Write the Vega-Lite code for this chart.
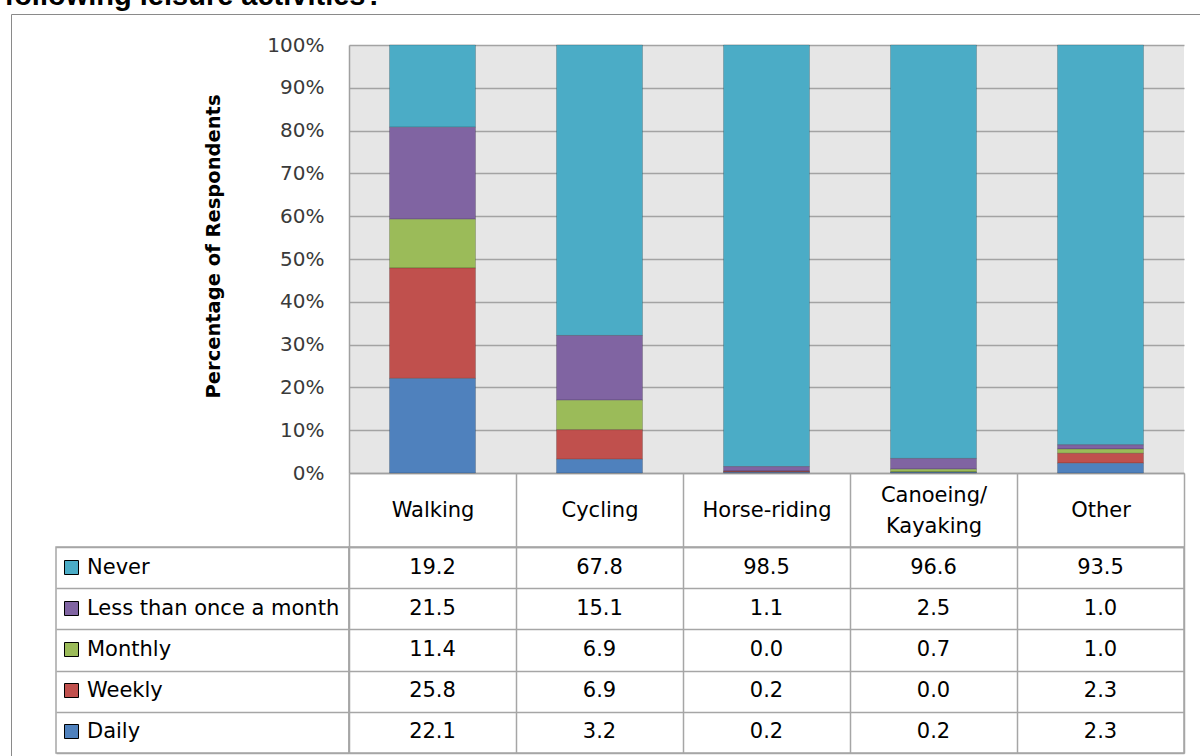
{
  "$schema": "https://vega.github.io/schema/vega-lite/v6.json",
  "background": "white",
  "padding": {"left": 4, "top": -19, "right": 0, "bottom": 0},
  "title": {
    "text": "following leisure activities?",
    "anchor": "start", "frame": "bounds",
    "font": "Liberation Sans", "fontSize": 29, "fontWeight": "bold", "color": "#000000",
    "baseline": "alphabetic", "offset": -20, "dx": -6
  },
  "datasets": {
    "tbl": [
      {"activity": "Walking", "freq": "Never", "value": 19.2},
      {"activity": "Walking", "freq": "Less than once a month", "value": 21.5},
      {"activity": "Walking", "freq": "Monthly", "value": 11.4},
      {"activity": "Walking", "freq": "Weekly", "value": 25.8},
      {"activity": "Walking", "freq": "Daily", "value": 22.1},
      {"activity": "Cycling", "freq": "Never", "value": 67.8},
      {"activity": "Cycling", "freq": "Less than once a month", "value": 15.1},
      {"activity": "Cycling", "freq": "Monthly", "value": 6.9},
      {"activity": "Cycling", "freq": "Weekly", "value": 6.9},
      {"activity": "Cycling", "freq": "Daily", "value": 3.2},
      {"activity": "Horse-riding", "freq": "Never", "value": 98.5},
      {"activity": "Horse-riding", "freq": "Less than once a month", "value": 1.1},
      {"activity": "Horse-riding", "freq": "Monthly", "value": 0.0},
      {"activity": "Horse-riding", "freq": "Weekly", "value": 0.2},
      {"activity": "Horse-riding", "freq": "Daily", "value": 0.2},
      {"activity": "Canoeing/Kayaking", "freq": "Never", "value": 96.6},
      {"activity": "Canoeing/Kayaking", "freq": "Less than once a month", "value": 2.5},
      {"activity": "Canoeing/Kayaking", "freq": "Monthly", "value": 0.7},
      {"activity": "Canoeing/Kayaking", "freq": "Weekly", "value": 0.0},
      {"activity": "Canoeing/Kayaking", "freq": "Daily", "value": 0.2},
      {"activity": "Other", "freq": "Never", "value": 93.5},
      {"activity": "Other", "freq": "Less than once a month", "value": 1.0},
      {"activity": "Other", "freq": "Monthly", "value": 1.0},
      {"activity": "Other", "freq": "Weekly", "value": 2.3},
      {"activity": "Other", "freq": "Daily", "value": 2.3}
    ]
  },
  "columns": 2,
  "bounds": "flush",
  "spacing": {"row": 74, "column": 0},
  "resolve": {
    "scale": {"x": "independent", "y": "independent", "color": "independent", "shape": "independent"},
    "legend": {"color": "independent", "shape": "independent"}
  },
  "concat": [
    {
      "width": 293,
      "height": 428,
      "data": {"values": [{}]},
      "mark": {"type": "point", "opacity": 0},
      "encoding": {
        "shape": {
          "datum": "frame", "type": "nominal",
          "scale": {"range": ["square"]},
          "legend": {
            "orient": "none", "legendX": -45, "legendY": -31,
            "title": null, "padding": 0,
            "strokeColor": "#8a8a8a",
            "symbolSize": 1600000, "symbolOpacity": 0, "symbolStrokeWidth": 0,
            "labelExpr": "''", "labelOffset": 0,
            "encode": {"legend": {"strokeWidth": {"value": 2.5}}}
          }
        }
      },
      "view": {"stroke": null}
    },
    {
      "width": 835,
      "height": 428,
      "data": {"name": "tbl"},
      "transform": [
        {"calculate": "indexof(['Daily','Weekly','Monthly','Less than once a month','Never'], datum.freq)", "as": "stackOrder"}
      ],
      "mark": {"type": "bar", "stroke": "#000000", "strokeOpacity": 0.18, "strokeWidth": 1},
      "encoding": {
        "x": {
          "field": "activity", "type": "nominal",
          "sort": ["Walking", "Cycling", "Horse-riding", "Canoeing/Kayaking", "Other"],
          "scale": {"paddingInner": 0.485, "paddingOuter": 0.2425},
          "axis": {"title": null, "labels": false, "ticks": false, "domain": true, "domainColor": "#a0a0a0", "domainWidth": 1.5, "grid": false}
        },
        "y": {
          "field": "value", "type": "quantitative", "stack": "normalize",
          "scale": {"domain": [0, 1]},
          "axis": {
            "values": [0, 0.1, 0.2, 0.3, 0.4, 0.5, 0.6, 0.7, 0.8, 0.9, 1],
            "format": ".0%",
            "title": "Percentage of Respondents",
            "titleFont": "DejaVu Sans", "titleFontSize": 19.5, "titleFontWeight": "bold", "titleColor": "#000000",
            "titleX": -136, "titleY": 201, "titleAlign": "center", "titleBaseline": "middle", "titleAngle": 270,
            "grid": true, "gridColor": "#a3a3a3", "gridWidth": 1.5,
            "ticks": false, "labelPadding": 25,
            "labelFont": "DejaVu Sans", "labelFontSize": 20, "labelColor": "#3a3a3a",
            "domain": true, "domainColor": "#a0a0a0", "domainWidth": 1.5
          }
        },
        "color": {
          "field": "freq", "type": "nominal",
          "scale": {
            "domain": ["Never", "Less than once a month", "Monthly", "Weekly", "Daily"],
            "range": ["#4BACC6", "#8064A2", "#9BBB59", "#C0504D", "#4F81BD"]
          },
          "legend": {
            "orient": "none", "legendX": -288, "legendY": 512,
            "title": null, "padding": 0,
            "symbolType": "square", "symbolSize": 196, "symbolStrokeWidth": 1,
            "labelFont": "DejaVu Sans", "labelFontSize": 21, "labelColor": "#000000",
            "labelOffset": 5, "rowPadding": 19, "labelLimit": 300
          }
        },
        "order": {"field": "stackOrder", "type": "quantitative"}
      },
      "view": {"fill": "#e6e6e6", "stroke": null}
    },
    {
      "width": 293,
      "height": 206,
      "data": {"name": "tbl"},
      "mark": {"type": "point", "opacity": 0},
      "encoding": {
        "y": {
          "field": "freq", "type": "nominal",
          "sort": ["Never", "Less than once a month", "Monthly", "Weekly", "Daily"],
          "scale": {"paddingInner": 0, "paddingOuter": 0},
          "axis": {"title": null, "labels": false, "ticks": false, "domain": false, "grid": true, "tickBand": "extent", "gridColor": "#a6a6a6", "gridWidth": 1.5}
        }
      },
      "view": {"stroke": "#a6a6a6", "strokeWidth": 1.5}
    },
    {
      "width": 835,
      "height": 206,
      "data": {"name": "tbl"},
      "mark": {"type": "text", "font": "DejaVu Sans", "fontSize": 21, "color": "#000000"},
      "encoding": {
        "x": {
          "field": "activity", "type": "nominal",
          "sort": ["Walking", "Cycling", "Horse-riding", "Canoeing/Kayaking", "Other"],
          "scale": {"paddingInner": 0, "paddingOuter": 0},
          "axis": {
            "orient": "top", "title": null, "labelAngle": 0,
            "tickBand": "extent", "ticks": true, "tickSize": 74, "tickColor": "#a6a6a6", "tickWidth": 1.5,
            "domain": true, "domainColor": "#a6a6a6", "domainWidth": 1.5,
            "grid": true, "gridColor": "#a6a6a6", "gridWidth": 1.5,
            "labelPadding": -37, "labelAlign": "center",
            "labelBaseline": {"condition": {"test": "datum.value == 'Canoeing/Kayaking'", "value": "line-bottom"}, "value": "middle"},
            "labelFont": "DejaVu Sans", "labelFontSize": 21, "labelColor": "#000000", "labelLineHeight": 31,
            "labelExpr": "datum.label == 'Canoeing/Kayaking' ? ['Canoeing/', 'Kayaking'] : datum.label"
          }
        },
        "y": {
          "field": "freq", "type": "nominal",
          "sort": ["Never", "Less than once a month", "Monthly", "Weekly", "Daily"],
          "scale": {"paddingInner": 0, "paddingOuter": 0},
          "axis": {"title": null, "labels": false, "ticks": false, "domain": false, "grid": true, "tickBand": "extent", "gridColor": "#a6a6a6", "gridWidth": 1.5}
        },
        "text": {"field": "value", "type": "quantitative", "format": ".1f"}
      },
      "view": {"stroke": "#a6a6a6", "strokeWidth": 1.5}
    }
  ]
}
